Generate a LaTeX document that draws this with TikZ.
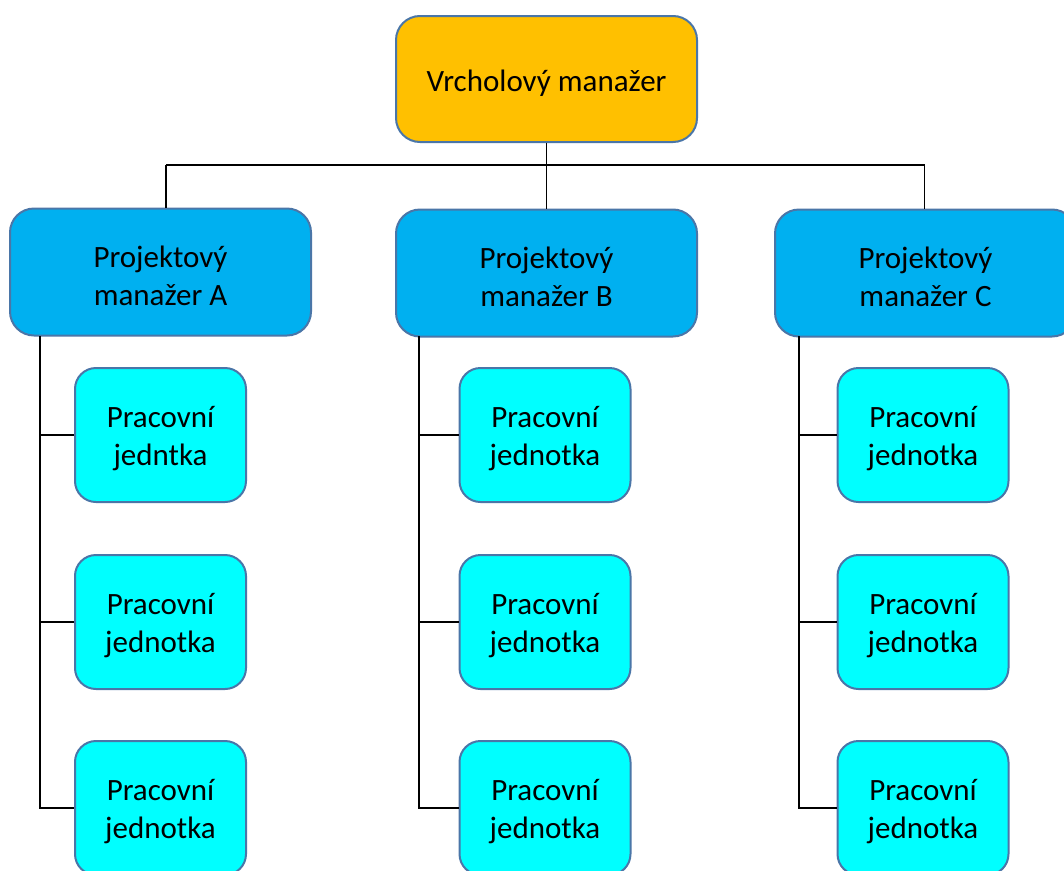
\documentclass[tikz,border=0pt]{standalone}
\usepackage{fontspec}
\setmainfont{Carlito}
\definecolor{topfill}{HTML}{FFC000}
\definecolor{pmfill}{HTML}{00B0F0}
\definecolor{wufill}{HTML}{00FFFF}
\definecolor{edge}{HTML}{4A76A8}
\newcommand{\lowstrut}{\rule{0pt}{29pt}}
\begin{document}
\begin{tikzpicture}[x=1pt,y=-1pt,
  box/.style={draw=edge,line width=2pt,rounded corners=24pt,align=center,
    font=\fontsize{31}{38}\selectfont,text=black,inner sep=0pt},
  topbox/.style={box,fill=topfill,minimum width=301pt,minimum height=126pt},
  pmbox/.style={box,fill=pmfill,minimum width=301pt,minimum height=127pt},
  wubox/.style={box,fill=wufill,minimum width=171pt,minimum height=134pt,rounded corners=21pt},
  conn/.style={draw=black,line width=1.4pt}]
\useasboundingbox (0,0) rectangle (1064,870);
\clip (0,0) rectangle (1064,870);
\fill[white] (0,0) rectangle (1064,870);

\node[topbox] (top) at (546.5,79) {\lowstrut Vrcholový manažer};
\node[pmbox] (pA) at (160.5,272) {\lowstrut Projektový\\manažer A};
\node[pmbox] (pB) at (546.5,273) {\lowstrut Projektový\\manažer B};
\node[pmbox] (pC) at (925.5,273) {\lowstrut Projektový\\manažer C};

\foreach \c/\x/\w in {A/160.5/jedntka,B/545/jednotka,C/923/jednotka}{
  \node[wubox] (w\c1) at (\x,435) {\lowstrut Pracovní\\\w};
  \node[wubox] (w\c2) at (\x,622) {\lowstrut Pracovní\\jednotka};
  \node[wubox] (w\c3) at (\x,808) {\lowstrut Pracovní\\jednotka};
}

\coordinate (dA) at (166,165);
\coordinate (dC) at (924.5,165);
\draw[conn] (top.south) -- (pB.north);
\draw[conn] (dA) -- (dC);
\draw[conn] (dA) -- (dA |- pA.north);
\draw[conn] (dC) -- (dC |- pC.north);

\coordinate (aT) at (40,336);
\coordinate (bT) at (419,336);
\coordinate (cT) at (799,336);
\foreach \c/\t in {A/aT,B/bT,C/cT}{
  \draw[conn] (\t) |- (w\c3.west);
  \draw[conn] (w\c1.west) -- (w\c1.west -| \t);
  \draw[conn] (w\c2.west) -- (w\c2.west -| \t);
}
\end{tikzpicture}
\end{document}
